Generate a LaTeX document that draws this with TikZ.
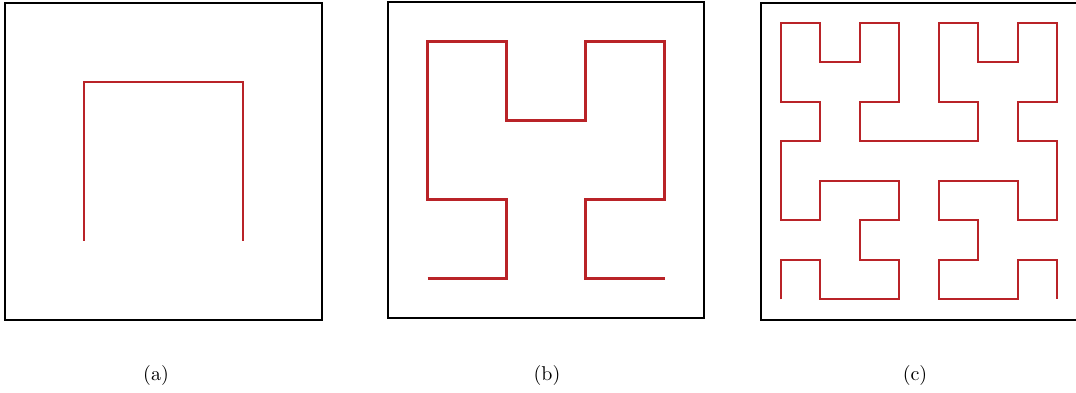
\documentclass[tikz,border=0pt]{standalone}
\usepackage{xcolor}
\usepackage{tikz}
\definecolor{curvered}{RGB}{185,35,40}

\begin{document}
\begin{tikzpicture}[
  x=0.5pt, y=-0.5pt,
  panelbox/.style={draw=black,line width=1.1pt},
  hilbert/.style={draw=curvered,line width=1.1pt},
  sublabel/.style={font=\normalsize,inner sep=0pt},
]
\useasboundingbox (0,0) rectangle (1076,392);

% order 1
\begin{scope}[shift={(5,3)}]
  \draw[panelbox] (0,0) rectangle (317,317);
  \draw[hilbert, x=39.625pt, y=-39.625pt] (1,3) -- (1,1) -- (3,1) -- (3,3);
\end{scope}

% order 2
\begin{scope}[shift={(388,2)}]
  \draw[panelbox] (0,0) rectangle (316,316);
  \draw[hilbert, x=19.75pt, y=-19.75pt]
    (1,7) -- (3,7) -- (3,5) -- (1,5) -- (1,1) -- (3,1) -- (3,3) -- (5,3)
    -- (5,1) -- (7,1) -- (7,5) -- (5,5) -- (5,7) -- (7,7);
\end{scope}

% order 3
\begin{scope}[shift={(761,3)}]
  \draw[panelbox] (0,0) rectangle (316,317);
  \draw[hilbert, x=9.875pt, y=-9.875pt]
    (1,15) -- (1,13) -- (3,13) -- (3,15) -- (7,15) -- (7,13) -- (5,13) -- (5,11)
    -- (7,11) -- (7,9) -- (3,9) -- (3,11) -- (1,11) -- (1,7) -- (3,7) -- (3,5)
    -- (1,5) -- (1,1) -- (3,1) -- (3,3) -- (5,3) -- (5,1) -- (7,1) -- (7,5)
    -- (5,5) -- (5,7) -- (11,7) -- (11,5) -- (9,5) -- (9,1) -- (11,1) -- (11,3)
    -- (13,3) -- (13,1) -- (15,1) -- (15,5) -- (13,5) -- (13,7) -- (15,7) -- (15,11)
    -- (13,11) -- (13,9) -- (9,9) -- (9,11) -- (11,11) -- (11,13) -- (9,13) -- (9,15)
    -- (13,15) -- (13,13) -- (15,13) -- (15,15);
\end{scope}

\node[sublabel] (lab-a) at (156,375) {(a)};
\node[sublabel] (lab-b) at (547,375) {(b)};
\node[sublabel] (lab-c) at (915,375) {(c)};
\end{tikzpicture}
\end{document}
